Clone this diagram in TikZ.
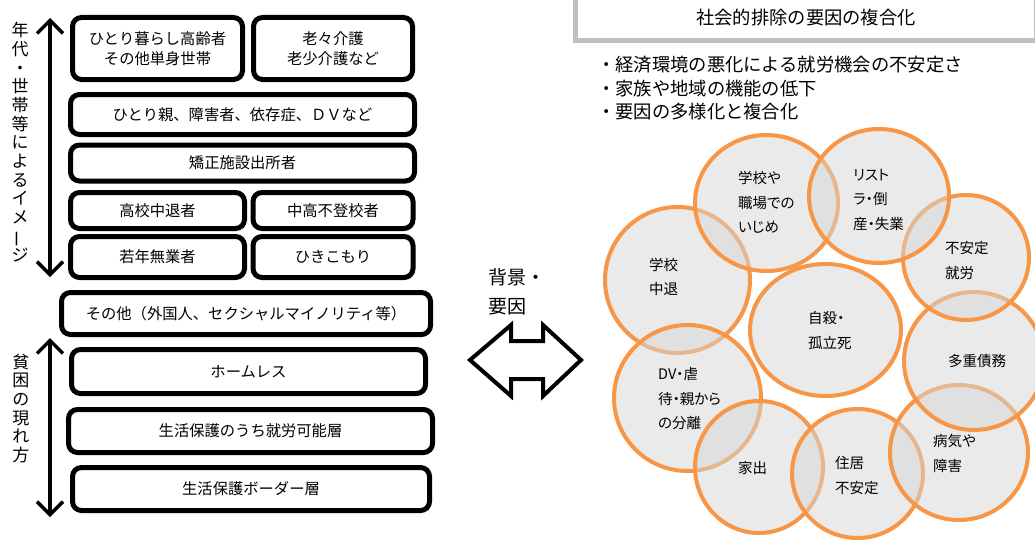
\documentclass[tikz,border=0pt]{standalone}
\usepackage{fontspec}
\setmainfont{Noto Sans CJK JP}
\newfontfamily\cfont[RawFeature=+palt]{Noto Sans CJK JP}
\usetikzlibrary{arrows.meta}
\definecolor{orng}{HTML}{F79646}
\definecolor{cfill}{HTML}{D7D7D7}
\definecolor{tgray}{HTML}{BFBFBF}
\begin{document}
\begin{tikzpicture}[x=1pt,y=-1pt,
  box/.style={draw=black, line width=5pt, rounded corners=9pt, fill=white, inner sep=0pt, align=center, font=\fontsize{15.3}{20}\selectfont},
  vtext/.style={inner sep=0pt, align=center, font=\fontsize{17}{18.7}\selectfont},
  varrow/.style={line width=3.5pt, {Straight Barb[length=13pt,width=26pt]}-{Straight Barb[length=13pt,width=26pt]}},
  circ/.style={draw=orng, line width=4pt, fill=cfill, fill opacity=0.5},
  ctext/.style={anchor=west, inner sep=0pt, align=left, font=\cfont\fontsize{14.5}{24.5}\selectfont},
  btext/.style={anchor=west, inner sep=0pt, font=\fontsize{18.3}{21}\selectfont}]
\useasboundingbox (0,0) rectangle (1035,543);
\fill[white] (0,0) rectangle (1035,543);

% left column boxes
\node[box, minimum width=170pt, minimum height=62pt] (b1) at (157.5,48.5) {ひとり暮らし高齢者\\その他単身世帯};
\node[box, minimum width=159pt, minimum height=62pt] (b2) at (333,48.5) {老々介護\\老少介護など};
\node[box, minimum width=344pt, minimum height=40pt] (b3) at (242.5,114.5) {ひとり親、障害者、依存症、ＤＶなど};
\node[box, minimum width=344pt, minimum height=36pt] (b4) at (242.5,163) {矯正施設出所者};
\node[box, minimum width=174pt, minimum height=36pt] (b5) at (157.5,210.5) {高校中退者};
\node[box, minimum width=160pt, minimum height=36pt] (b6) at (333,210.5) {中高不登校者};
\node[box, minimum width=174pt, minimum height=41pt] (b7) at (157.5,257) {若年無業者};
\node[box, minimum width=160pt, minimum height=41pt] (b8) at (333,257) {ひきこもり};
\node[box, minimum width=369pt, minimum height=42pt] (b9) at (246,313.5) {その他（外国人、セクシャルマイノリティ等）};
\node[box, minimum width=354pt, minimum height=44pt] (b10) at (248.5,371.5) {ホームレス};
\node[box, minimum width=364pt, minimum height=43pt] (b11) at (250.5,431) {生活保護のうち就労可能層};
\node[box, minimum width=357pt, minimum height=43pt] (b12) at (251,489) {生活保護ボーダー層};

% vertical arrows and labels
\coordinate (a1t) at (50,18);
\coordinate (a1b) at (50,277);
\coordinate (a2t) at (50,338);
\coordinate (a2b) at (50,517);
\draw[varrow] (a1t) -- (a1b);
\draw[varrow] (a2t) -- (a2b);
\node[vtext] (v1) at (20,142) {年\\代\\・\\世\\帯\\等\\に\\よ\\る\\イ\\メ\\\rotatebox[origin=c]{90}{ー}\\ジ};
\node[vtext] (v2) at (21,408.5) {貧\\困\\の\\現\\れ\\方};

% middle
\node[anchor=west, inner sep=0pt, align=left, font=\fontsize{19}{29}\selectfont] (mid) at (488,291.5) {背景・\\要因};
\draw[line width=4pt, line join=miter, miter limit=10]
  (470,360) -- (511,325) -- (511,341) -- (543,341) -- (543,325) -- (581,360)
  -- (543,396) -- (543,379) -- (511,379) -- (511,396) -- cycle;

% title box
\draw[tgray, line width=5pt, fill=white] (575.5,-10) rectangle (1036.5,40.5);
\node[inner sep=0pt, font=\fontsize{18.3}{21}\selectfont] (title) at (806,18) {社会的排除の要因の複合化};
\node[btext] (l1) at (597,65) {・経済環境の悪化による就労機会の不安定さ};
\node[btext] (l2) at (597,88.5) {・家族や地域の機能の低下};
\node[btext] (l3) at (597,112) {・要因の多様化と複合化};

% circles
\draw[circ] (677.5,280) ellipse [x radius=72.5pt, y radius=73pt];
\draw[circ] (687.5,398) ellipse [x radius=73.5pt, y radius=73pt];
\draw[circ] (759,467) ellipse [x radius=64pt, y radius=66pt];
\draw[circ] (857.5,473.5) ellipse [x radius=65.5pt, y radius=64.5pt];
\draw[circ] (959,452.5) ellipse [x radius=69pt, y radius=67.5pt];
\draw[circ] (974,361) ellipse [x radius=70pt, y radius=69pt];
\draw[circ] (966,257.5) ellipse [x radius=63pt, y radius=62.5pt];
\draw[circ] (766.5,203) ellipse [x radius=71.5pt, y radius=68pt];
\draw[circ] (879,196) ellipse [x radius=70pt, y radius=67pt];
\draw[circ] (825.5,330) ellipse [x radius=75.5pt, y radius=66pt];

\node[ctext] (c1) at (738,202.5) {学校や\\職場での\\いじめ};
\node[ctext] (c2) at (853,199.5) {リスト\\ラ・倒\\産・失業};
\node[ctext] (c3) at (945,260.5) {不安定\\就労};
\node[ctext] (c4) at (649,277) {学校\\中退};
\node[ctext] (c5) at (808,330.5) {自殺・\\孤立死};
\node[ctext] (c6) at (948,361) {多重債務};
\node[ctext] (c7) at (658,399) {DV・虐\\待・親から\\の分離};
\node[ctext] (c8) at (738,468) {家出};
\node[ctext] (c9) at (835,475.5) {住居\\不安定};
\node[ctext] (c10) at (933,453.5) {病気や\\障害};
\end{tikzpicture}
\end{document}
